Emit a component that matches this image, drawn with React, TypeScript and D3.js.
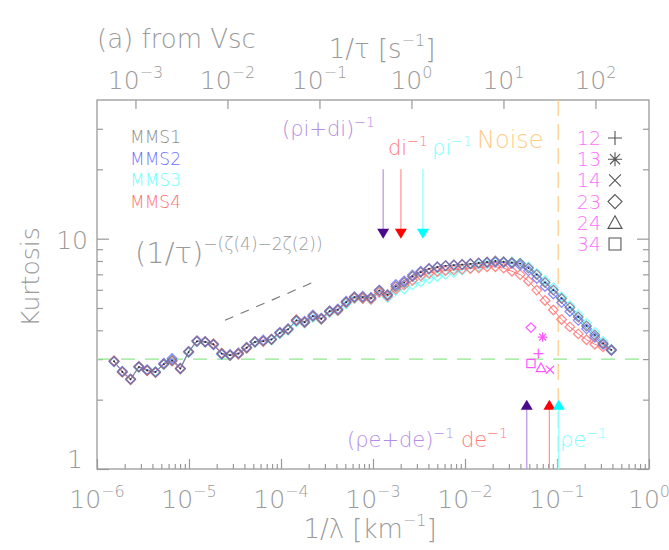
import { useEffect, useRef } from "react";
import * as d3 from "d3";

const W = 669;
const H = 550;
const FONT = "'DejaVu Sans', 'Liberation Sans', sans-serif";
const AXIS = "#9a9a9a";

// 1/lambda [km^-1] of every increment
const invLambda = [
  1.531e-6, 1.884e-6, 2.317e-6, 2.851e-6, 3.508e-6, 4.325e-6, 5.321e-6, 6.546e-6, 8.054e-6, 9.908e-6,
  1.219e-5, 1.5e-5, 1.845e-5, 2.27e-5, 2.793e-5, 3.443e-5, 4.236e-5, 5.212e-5, 6.412e-5, 7.889e-5,
  9.705e-5, 1.194e-4, 1.469e-4, 1.807e-4, 2.223e-4, 2.742e-4, 3.373e-4, 4.15e-4, 5.105e-4, 6.281e-4,
  7.727e-4, 9.506e-4, 1.169e-3, 1.439e-3, 1.77e-3, 2.183e-3, 2.685e-3, 3.304e-3, 4.064e-3, 5.0e-3,
  6.152e-3, 7.568e-3, 9.311e-3, 1.146e-2, 1.409e-2, 1.738e-2, 2.138e-2, 2.63e-2, 3.236e-2, 3.981e-2,
  4.898e-2, 6.026e-2, 7.413e-2, 9.12e-2, 0.1122, 0.138, 0.1702, 0.2094, 0.2576, 0.317,
  0.3899,
];

const mms1 = [
  2.94, 2.64, 2.45, 2.77, 2.68, 2.64, 2.85, 2.96, 2.73, 3.22,
  3.58, 3.56, 3.48, 3.17, 3.12, 3.17, 3.36, 3.56, 3.59, 3.65,
  3.89, 4.04, 4.42, 4.34, 4.61, 4.49, 4.84, 4.91, 5.3, 5.57,
  5.57, 5.52, 5.95, 5.71, 6.2, 6.45, 6.85, 7.15, 7.4, 7.52,
  7.62, 7.68, 7.72, 7.78, 7.85, 7.92, 8.0, 7.94, 7.88, 7.8,
  7.45, 6.98, 6.45, 5.98, 5.5, 5.03, 4.57, 4.18, 3.82, 3.51,
  3.29,
];
const mms2 = [
  2.92, 2.66, 2.46, 2.78, 2.7, 2.63, 2.88, 3.02, 2.74, 3.24,
  3.6, 3.58, 3.46, 3.15, 3.14, 3.19, 3.38, 3.58, 3.63, 3.66,
  3.92, 4.06, 4.4, 4.38, 4.66, 4.52, 4.86, 4.95, 5.35, 5.6,
  5.62, 5.55, 5.98, 5.69, 6.32, 6.55, 6.95, 7.22, 7.42, 7.55,
  7.64, 7.68, 7.72, 7.78, 7.82, 7.88, 7.92, 7.88, 7.8, 7.66,
  7.25, 6.72, 6.2, 5.75, 5.28, 4.83, 4.42, 4.06, 3.73, 3.47,
  3.27,
];
const mms3 = [
  2.93, 2.65, 2.45, 2.76, 2.69, 2.65, 2.84, 2.99, 2.72, 3.2,
  3.57, 3.55, 3.47, 3.14, 3.1, 3.16, 3.35, 3.54, 3.6, 3.63,
  3.86, 4.0, 4.36, 4.3, 4.55, 4.46, 4.78, 4.86, 5.22, 5.48,
  5.5, 5.45, 5.84, 5.55, 5.95, 6.05, 6.3, 6.5, 6.7, 6.85,
  7.0, 7.15, 7.3, 7.45, 7.6, 7.78, 7.9, 7.92, 7.92, 7.85,
  7.55, 7.08, 6.58, 6.13, 5.6, 5.12, 4.69, 4.29, 3.92, 3.58,
  3.31,
];
const mms4 = [
  2.95, 2.63, 2.44, 2.79, 2.67, 2.62, 2.86, 2.94, 2.72, 3.24,
  3.6, 3.57, 3.5, 3.18, 3.11, 3.15, 3.34, 3.57, 3.58, 3.66,
  3.9, 4.03, 4.45, 4.32, 4.6, 4.47, 4.82, 4.88, 5.28, 5.52,
  5.5, 5.46, 5.85, 5.62, 6.05, 6.3, 6.6, 6.9, 7.08, 7.2,
  7.28, 7.32, 7.38, 7.42, 7.48, 7.55, 7.55, 7.45, 7.22, 6.98,
  6.55, 5.98, 5.39, 4.9, 4.46, 4.14, 3.86, 3.64, 3.48, 3.39,
  3.29,
];

const seriesNames = ["MMS1", "MMS2", "MMS3", "MMS4"];
const seriesColors = ["#8c8c8c", "#6f6fff", "#66ffff", "#ff6f6f"];
const markerColors = ["#7a6a86", "#6f6fff", "#66ffff", "#ff6f6f"];

// two-spacecraft estimates
const pairLabels = ["12", "13", "14", "23", "24", "34"];
const pairSymbols = ["plus", "asterisk", "cross", "diamond", "triangle", "square"];
const pairInvLambda = [0.0626, 0.0698, 0.0839, 0.0521, 0.067, 0.0521];
const pairKurtosis = [3.17, 3.74, 2.7, 4.11, 2.75, 2.87];

// characteristic scales [km^-1]
const ionScales = [1.29e-3, 2.01e-3, 3.49e-3]; // (ρi+di)^-1, di^-1, ρi^-1
const electronScales = [0.0469, 0.0826, 0.1045]; // (ρe+de)^-1, de^-1, ρe^-1
const arrowLine = ["#bb9be6", "#ff9a9a", "#8cffff"];
const arrowHead = ["#4b0a8c", "#ff0000", "#00ffff"];
const noiseInvLambda = 0.103;
const vsc = 382; // km/s, 1/τ = Vsc/λ
const gaussian = 3;
const refLineX = [2.46e-5, 2.24e-4];
const refLineY = [4.42, 6.47];

const bottomTicks = [1e-6, 1e-5, 1e-4, 1e-3, 1e-2, 1e-1, 1];
const bottomExp = ["−6", "−5", "−4", "−3", "−2", "−1", "0"];
const topTicks = [1e-3, 1e-2, 1e-1, 1, 10, 100];
const topExp = ["−3", "−2", "−1", "0", "1", "2"];

function symbolPath(type: string, r: number) {
  const d = r * 0.72;
  const c = r * 0.85;
  switch (type) {
    case "plus":
      return `M${-r},0H${r}M0,${-r}V${r}`;
    case "asterisk":
      return `M${-r},0H${r}M0,${-r}V${r}M${-d},${-d}L${d},${d}M${-d},${d}L${d},${-d}`;
    case "cross":
      return `M${-c},${-c}L${c},${c}M${-c},${c}L${c},${-c}`;
    case "diamond":
      return `M0,${-r}L${r},0L0,${r}L${-r},0Z`;
    case "triangle":
      return `M0,${-r}L${r},${r * 0.8}L${-r},${r * 0.8}Z`;
    default:
      return `M${-c},${-c}H${c}V${c}H${-c}Z`;
  }
}

// text with superscript pieces: [text, isSup]
function richText(sel: any, parts: [string, boolean][], size: number, supSize: number) {
  let up = false;
  parts.forEach(([t, sup]) => {
    const ts = sel.append("tspan").text(t);
    if (sup && !up) {
      ts.attr("dy", -size * 0.45).attr("font-size", supSize);
      up = true;
    } else if (sup) {
      ts.attr("font-size", supSize);
    } else if (!sup && up) {
      ts.attr("dy", size * 0.45);
      up = false;
    }
  });
}

export default function App() {
  const svgRef = useRef<SVGSVGElement>(null);

  useEffect(() => {
    if (!svgRef.current) return;
    const svg = d3.select(svgRef.current);
    svg.selectAll("*").remove();

    const left = 97, right = 649, top = 100, bottom = 469;
    const x = d3.scaleLog().domain([1e-6, 1]).range([left, right]);
    const xTop = d3.scaleLog().domain([1e-6 * vsc, vsc]).range([left, right]);
    const y = d3.scaleLog().domain([1, 40]).range([bottom, top]);

    const g = svg.append("g").attr("font-family", FONT).attr("font-weight", 200);

    // frame
    g.append("rect")
      .attr("x", left).attr("y", top)
      .attr("width", right - left).attr("height", bottom - top)
      .attr("fill", "none").attr("stroke", AXIS).attr("stroke-width", 1.3);

    // ticks
    const minorX: number[] = [];
    for (let e = -6; e < 0; e++) for (let m = 2; m <= 9; m++) minorX.push(m * 10 ** e);
    const minorY = [2, 3, 4, 5, 6, 7, 8, 9, 20, 30];

    const axes = [
      [d3.axisBottom(x).tickValues(bottomTicks).tickSize(-10), `translate(0,${bottom})`],
      [d3.axisBottom(x).tickValues(minorX).tickSize(-5), `translate(0,${bottom})`],
      [d3.axisTop(xTop).tickValues(topTicks).tickSize(-9), `translate(0,${top})`],
      [d3.axisLeft(y).tickValues([1, 10]).tickSize(-12), `translate(${left},0)`],
      [d3.axisLeft(y).tickValues(minorY).tickSize(-6), `translate(${left},0)`],
      [d3.axisRight(y).tickValues([1, 10]).tickSize(-12), `translate(${right},0)`],
      [d3.axisRight(y).tickValues(minorY).tickSize(-6), `translate(${right},0)`],
    ] as [any, string][];
    axes.forEach(([ax, tr]) => {
      const a = g.append("g").attr("transform", tr).call(ax.tickFormat(() => ""));
      a.select(".domain").remove();
      a.selectAll(".tick text").remove();
      a.selectAll(".tick line").attr("stroke", AXIS).attr("stroke-width", 1.2);
    });

    // tick labels
    bottomTicks.forEach((t, i) => {
      const tx = g.append("text").attr("x", x(t)).attr("y", 508)
        .attr("text-anchor", "middle").attr("font-size", 25).attr("fill", AXIS);
      richText(tx, [["10", false], [bottomExp[i], true]], 25, 16);
    });
    topTicks.forEach((t, i) => {
      const tx = g.append("text").attr("x", xTop(t)).attr("y", 89)
        .attr("text-anchor", "middle").attr("font-size", 25).attr("fill", AXIS);
      richText(tx, [["10", false], [topExp[i], true]], 25, 16);
    });
    g.append("text").attr("x", 88).attr("y", 249).attr("text-anchor", "end")
      .attr("font-size", 25).attr("fill", AXIS).text("10");
    g.append("text").attr("x", 83).attr("y", 468).attr("text-anchor", "end")
      .attr("font-size", 25).attr("fill", AXIS).text("1");

    // axis titles
    const bt = g.append("text").attr("x", 370).attr("y", 538).attr("text-anchor", "middle")
      .attr("font-size", 26).attr("fill", AXIS);
    richText(bt, [["1/λ [km", false], ["−1", true], ["]", false]], 26, 16);
    const tt = g.append("text").attr("x", 382).attr("y", 58).attr("text-anchor", "middle")
      .attr("font-size", 26).attr("fill", AXIS);
    richText(tt, [["1/τ [s", false], ["−1", true], ["]", false]], 26, 16);
    g.append("text").attr("transform", "translate(39,277) rotate(-90)")
      .attr("text-anchor", "middle").attr("font-size", 25).attr("fill", AXIS).text("Kurtosis");
    g.append("text").attr("x", 97).attr("y", 48).attr("font-size", 26)
      .attr("fill", AXIS).text("(a) from Vsc");

    // reference lines
    g.append("line")
      .attr("x1", left).attr("x2", right).attr("y1", y(gaussian)).attr("y2", y(gaussian))
      .attr("stroke", "#8fe88f").attr("stroke-width", 1.2).attr("stroke-dasharray", "14,10");
    g.append("line")
      .attr("x1", x(noiseInvLambda)).attr("x2", x(noiseInvLambda)).attr("y1", top).attr("y2", bottom)
      .attr("stroke", "#ffcc8a").attr("stroke-width", 1.3).attr("stroke-dasharray", "16,8");
    g.append("line")
      .attr("x1", x(refLineX[0])).attr("y1", y(refLineY[0]))
      .attr("x2", x(refLineX[1])).attr("y2", y(refLineY[1]))
      .attr("stroke", "#777").attr("stroke-width", 1.1).attr("stroke-dasharray", "9,8");
    const rl = g.append("text").attr("x", 135).attr("y", 263).attr("font-size", 29).attr("fill", AXIS);
    richText(rl, [["(1/τ)", false], ["−(ζ(4)−2ζ(2))", true]], 29, 17);

    // series, drawn back to front
    const seriesValues = [mms1, mms2, mms3, mms4];
    const order = [2, 3, 1, 0];
    const line = d3.line<number>()
      .x((_, i) => x(invLambda[i]))
      .y((v) => y(v));
    order.forEach((s) => {
      const vals = seriesValues[s];
      g.append("path").attr("d", line(vals)).attr("fill", "none")
        .attr("stroke", seriesColors[s]).attr("stroke-width", 1).attr("stroke-opacity", 0.9);
      g.append("g").selectAll("path").data(vals).enter().append("path")
        .attr("transform", (v, i) => `translate(${x(invLambda[i])},${y(v)})`)
        .attr("d", symbolPath("diamond", 4.8))
        .attr("fill", "none").attr("stroke", markerColors[s])
        .attr("stroke-width", 1.3).attr("stroke-opacity", 0.8);
    });
    g.append("g").selectAll("circle").data(mms1).enter().append("circle")
      .attr("cx", (_, i) => x(invLambda[i])).attr("cy", (v) => y(v))
      .attr("r", 0.9).attr("fill", "#222");

    // series legend
    seriesNames.forEach((n, i) => {
      g.append("text").attr("x", 130).attr("y", 143 + i * 21.7)
        .attr("font-size", 17).attr("fill", seriesColors[i]).text(n);
    });

    // pair legend and points
    pairLabels.forEach((p, i) => {
      const cy = 138 + i * 21.2;
      g.append("text").attr("x", 601).attr("y", cy + 7).attr("text-anchor", "end")
        .attr("font-size", 19).attr("fill", "#ff70ff").text(p);
      g.append("path").attr("transform", `translate(615,${cy})`)
        .attr("d", symbolPath(pairSymbols[i], 7))
        .attr("fill", "none").attr("stroke", "#555").attr("stroke-width", 1.1);
      g.append("path")
        .attr("transform", `translate(${x(pairInvLambda[i])},${y(pairKurtosis[i])})`)
        .attr("d", symbolPath(pairSymbols[i], 4.8))
        .attr("fill", "none").attr("stroke", "#ff55ff").attr("stroke-width", 1.2);
    });

    // ion scale arrows (down)
    ionScales.forEach((k, i) => {
      const ax = x(k);
      const tip = y(10);
      g.append("line").attr("x1", ax).attr("x2", ax).attr("y1", y(20)).attr("y2", tip - 8)
        .attr("stroke", arrowLine[i]).attr("stroke-width", 1.3);
      g.append("path").attr("d", `M${ax - 6},${tip - 10}L${ax + 6},${tip - 10}L${ax},${tip}Z`)
        .attr("fill", arrowHead[i]);
    });
    // electron scale arrows (up)
    electronScales.forEach((k, i) => {
      const ax = x(k);
      const tip = y(2);
      g.append("line").attr("x1", ax).attr("x2", ax).attr("y1", tip + 8).attr("y2", bottom)
        .attr("stroke", arrowLine[i]).attr("stroke-width", 1.3);
      g.append("path").attr("d", `M${ax - 6},${tip + 10}L${ax + 6},${tip + 10}L${ax},${tip}Z`)
        .attr("fill", arrowHead[i]);
    });

    // scale labels
    const lab = (tx: number, ty: number, color: string, parts: [string, boolean][], size = 21) => {
      const t = g.append("text").attr("x", tx).attr("y", ty).attr("font-size", size).attr("fill", color);
      richText(t, parts, size, 14);
    };
    lab(282, 136, "#b48ce6", [["(ρi+di)", false], ["−1", true]]);
    lab(388, 155, "#ff7a7a", [["di", false], ["−1", true]]);
    lab(432, 155, "#7affff", [["ρi", false], ["−1", true]]);
    lab(477, 148, "#ffcc8a", [["Noise", false]], 24);
    lab(347, 447, "#b48ce6", [["(ρe+de)", false], ["−1", true]]);
    lab(461, 447, "#ff7a7a", [["de", false], ["−1", true]]);
    lab(560, 447, "#7affff", [["ρe", false], ["−1", true]]);
  }, []);

  return (
    <svg
      ref={svgRef}
      width={W}
      height={H}
      style={{ position: "absolute", left: 0, top: 0, background: "#fff" }}
    />
  );
}
